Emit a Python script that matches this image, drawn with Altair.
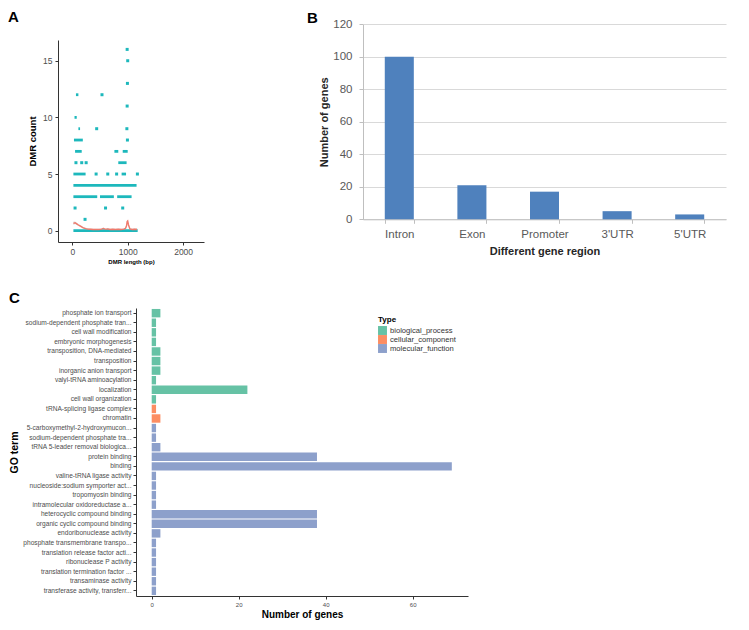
import altair as alt
import pandas as pd

# ---------------- data ----------------
# Panel A: DMR length vs DMR count (ggplot scatter + smooth)
a_run_count = [0, 4, 3, 3, 3, 5, 5, 6, 7, 7, 7, 8, 9, 10, 12]
a_run_start = [20, 20, 20, 500, 810, 20, 890, 830, 50, 760, 910, 30, 110, 40, 66]
a_run_end = [1180, 1160, 450, 750, 1070, 240, 970, 980, 170, 830, 1000, 190, 140, 80, 110]
a_pt_bp = [430, 640, 800, 1175, 66, 170, 250, 995, 440, 985, 990, 536, 995, 1000, 990, 50, 600, 910, 230]
a_pt_count = [5, 5, 5, 5, 6, 6, 6, 8, 9, 9, 11, 12, 13, 15, 16, 2, 2, 2, 1]
a_fit_bp = [20, 50, 80, 110, 140, 170, 200, 240, 280, 330, 380, 430, 480, 530, 560, 600,
            640, 680, 730, 780, 830, 880, 930, 960, 980, 990, 1000, 1015, 1040, 1080, 1120, 1170]
a_fit = [0.65, 0.7, 0.6, 0.5, 0.42, 0.33, 0.25, 0.18, 0.14, 0.12, 0.1, 0.11, 0.1, 0.14, 0.2, 0.12,
         0.16, 0.1, 0.12, 0.1, 0.13, 0.1, 0.14, 0.2, 0.45, 0.8, 0.85, 0.5, 0.15, 0.1, 0.12, 0.1]
a_fit_se = [0.15, 0.12, 0.1, 0.09, 0.08, 0.08, 0.07, 0.07, 0.07, 0.07, 0.07, 0.07, 0.07, 0.07, 0.08, 0.07,
            0.07, 0.07, 0.07, 0.07, 0.07, 0.07, 0.07, 0.08, 0.1, 0.12, 0.12, 0.1, 0.08, 0.08, 0.1, 0.12]
a_xticks = [0, 1000, 2000]
a_yticks = [0, 5, 10, 15]

# Panel B: genes per gene region
b_region = ["Intron", "Exon", "Promoter", "3'UTR", "5'UTR"]
b_genes = [100, 21, 17, 5, 3]
b_yticks = [0, 20, 40, 60, 80, 100, 120]

# Panel C: GO terms
c_terms = [
    "phosphate ion transport", "sodium-dependent phosphate tran...", "cell wall modification",
    "embryonic morphogenesis", "transposition, DNA-mediated", "transposition",
    "inorganic anion transport", "valyl-tRNA aminoacylation", "localization",
    "cell wall organization", "tRNA-splicing ligase complex", "chromatin",
    "5-carboxymethyl-2-hydroxymucon...", "sodium-dependent phosphate tra...",
    "tRNA 5-leader removal biologica...", "protein binding", "binding",
    "valine-tRNA ligase activity", "nucleoside:sodium symporter act...", "tropomyosin binding",
    "intramolecular oxidoreductase a...", "heterocyclic compound binding",
    "organic cyclic compound binding", "endoribonuclease activity",
    "phosphate transmembrane transpo...", "translation release factor acti...",
    "ribonuclease P activity", "translation termination factor ...", "transaminase activity",
    "transferase activity, transferr...",
]
c_genes = [2, 1, 1, 1, 2, 2, 2, 1, 22, 1, 1, 2, 1, 1, 2, 38, 69, 1, 1, 1, 1, 38, 38, 2, 1, 1, 1, 1, 1, 1]
c_type = (["biological_process"] * 10 + ["cellular_component"] * 2 + ["molecular_function"] * 18)
c_types = ["biological_process", "cellular_component", "molecular_function"]
c_colors = ["#66c2a5", "#fc8d62", "#8da0cb"]
c_xticks = [0, 20, 40, 60]

# ---------------- layout helpers (page px -> view px) ----------------
W, H = 733, 614
def PX(p):
    return p - 8
def PY(p):
    return p - 8

FONT = "Liberation Sans"
teal = "#1DB8BC"
salmon = "#F07A6C"

# Panel A scales
a_xs = alt.Scale(domain=[-258, 2377], range=[PX(58), PX(204)], nice=False, zero=False)
a_ys = alt.Scale(domain=[-1.0, 16.83], range=[PY(242), PY(40)], nice=False, zero=False)
a_xaxis = alt.Axis(orient="bottom", offset=PY(242) - H, values=a_xticks, grid=False, format="d",
                   domainColor="#333333", tickColor="#333333", tickSize=3, labelPadding=2,
                   labelFont=FONT, labelFontSize=8.5, labelColor="#4d4d4d",
                   title="DMR length (bp)", titleFont=FONT, titleFontSize=6, titleFontWeight="bold",
                   titleColor="black", titlePadding=3)
a_yaxis = alt.Axis(orient="left", offset=-PX(58), values=a_yticks, grid=False, format="d",
                   domainColor="#333333", tickColor="#333333", tickSize=3, labelPadding=3,
                   labelFont=FONT, labelFontSize=8.5, labelColor="#4d4d4d",
                   title="DMR count", titleFont=FONT, titleFontSize=9.5, titleFontWeight="bold",
                   titleColor="black", titlePadding=5)

df_runs = pd.DataFrame({"count": a_run_count, "start": a_run_start, "end": a_run_end})
df_pts = pd.DataFrame({"bp": a_pt_bp, "count": a_pt_count})
df_fit = pd.DataFrame({"bp": a_fit_bp, "fit": a_fit, "se": a_fit_se})

a_axes = alt.Chart(df_pts).mark_point(opacity=0).encode(
    x=alt.X("bp:Q", scale=a_xs, axis=a_xaxis),
    y=alt.Y("count:Q", scale=a_ys, axis=a_yaxis),
)
a_band = alt.Chart(df_fit).transform_calculate(
    lo="datum.fit - datum.se", hi="datum.fit + datum.se"
).mark_area(color="#9a9a9a", opacity=0.35).encode(
    x=alt.X("bp:Q", scale=a_xs, axis=None),
    y=alt.Y("lo:Q", scale=a_ys, axis=None),
    y2="hi:Q",
)
a_runs = alt.Chart(df_runs).mark_rule(color=teal, strokeWidth=2.8).encode(
    x=alt.X("start:Q", scale=a_xs, axis=None),
    x2="end:Q",
    y=alt.Y("count:Q", scale=a_ys, axis=None),
)
a_points = alt.Chart(df_pts).mark_square(color=teal, size=9, opacity=1).encode(
    x=alt.X("bp:Q", scale=a_xs, axis=None),
    y=alt.Y("count:Q", scale=a_ys, axis=None),
)
a_line = alt.Chart(df_fit).mark_line(color=salmon, strokeWidth=1.4).encode(
    x=alt.X("bp:Q", scale=a_xs, axis=None),
    y=alt.Y("fit:Q", scale=a_ys, axis=None),
)

# Panel B
df_b = pd.DataFrame({"region": b_region, "genes": b_genes})
b_bars = alt.Chart(df_b).mark_bar(color="#4F81BD").encode(
    x=alt.X("region:N", sort=b_region,
            scale=alt.Scale(domain=b_region, range=[PX(363), PX(726)], paddingInner=0.6, paddingOuter=0.3),
            axis=alt.Axis(orient="bottom", offset=PY(219.3) - H, labelAngle=0, tickBand="extent",
                          tickSize=4, tickColor="#bfbfbf", domainColor="#bfbfbf",
                          labelFont=FONT, labelFontSize=11.5, labelColor="#595959", labelPadding=5,
                          title="Different gene region", titleFont=FONT, titleFontSize=11,
                          titleFontWeight="bold", titleColor="#262626", titlePadding=6)),
    y=alt.Y("genes:Q",
            scale=alt.Scale(domain=[0, 120], range=[PY(219.3), PY(24.3)], nice=False),
            axis=alt.Axis(orient="left", offset=-PX(363), values=b_yticks, grid=True,
                          gridColor="#d9d9d9", domainColor="#bfbfbf", tickColor="#bfbfbf", tickSize=4,
                          labelFont=FONT, labelFontSize=11.5, labelColor="#595959", labelPadding=7,
                          title="Number of genes", titleFont=FONT, titleFontSize=11,
                          titleFontWeight="bold", titleColor="#262626", titlePadding=3)),
)

# Panel C
df_c = pd.DataFrame({"term": c_terms, "genes": c_genes, "Type": c_type})
c_bars = alt.Chart(df_c).mark_bar().encode(
    y=alt.Y("term:N", sort=c_terms,
            scale=alt.Scale(domain=c_terms, range=[PY(308), PY(596)], paddingInner=0.12, paddingOuter=0.1),
            axis=alt.Axis(orient="left", offset=-PX(136), labelFont=FONT, labelFontSize=6.6,
                          labelColor="#4d4d4d", labelLimit=200, tickSize=3, tickColor="#333333",
                          domainColor="#333333", labelPadding=2,
                          title="GO term", titleFont=FONT, titleFontSize=10.5, titleFontWeight="bold",
                          titleColor="black", titlePadding=3)),
    x=alt.X("genes:Q",
            scale=alt.Scale(domain=[-3.61, 72.72], range=[PX(136), PX(468)], nice=False),
            axis=alt.Axis(orient="bottom", offset=PY(596) - H, values=c_xticks, grid=False,
                          tickSize=3, tickColor="#333333", domainColor="#333333",
                          labelFont=FONT, labelFontSize=6, labelColor="#4d4d4d", labelPadding=2,
                          title="Number of genes", titleFont=FONT, titleFontSize=10,
                          titleFontWeight="bold", titleColor="black", titlePadding=2)),
    color=alt.Color("Type:N", scale=alt.Scale(domain=c_types, range=c_colors),
                    legend=alt.Legend(orient="none", legendX=PX(378), legendY=PY(316),
                                      title="Type", titleFont=FONT, titleFontSize=8,
                                      titleFontWeight="bold", titlePadding=2,
                                      labelFont=FONT, labelFontSize=7.6, labelColor="#333333",
                                      symbolType="square", symbolSize=80, symbolStrokeWidth=0,
                                      rowPadding=0, labelOffset=3)),
)

# Panel letters
def letter(t, x, y):
    return alt.Chart(pd.DataFrame({"t": [t]})).mark_text(
        font=FONT, fontSize=15, fontWeight="bold", align="left", baseline="alphabetic", color="black"
    ).encode(text="t:N", x=alt.value(PX(x)), y=alt.value(PY(y)))

chart = alt.layer(
    a_axes, a_band, a_runs, a_points, a_line,
    b_bars, c_bars,
    letter("A", 8, 22), letter("B", 307, 23), letter("C", 9, 303),
).resolve_scale(
    x="independent", y="independent", color="independent"
).properties(
    width=W, height=H, padding=0, autosize=alt.AutoSizeParams(type="none"),
    background="white",
).configure_view(stroke=None)

chart.save("out.html", embed_options={"renderer": "svg", "actions": False})
